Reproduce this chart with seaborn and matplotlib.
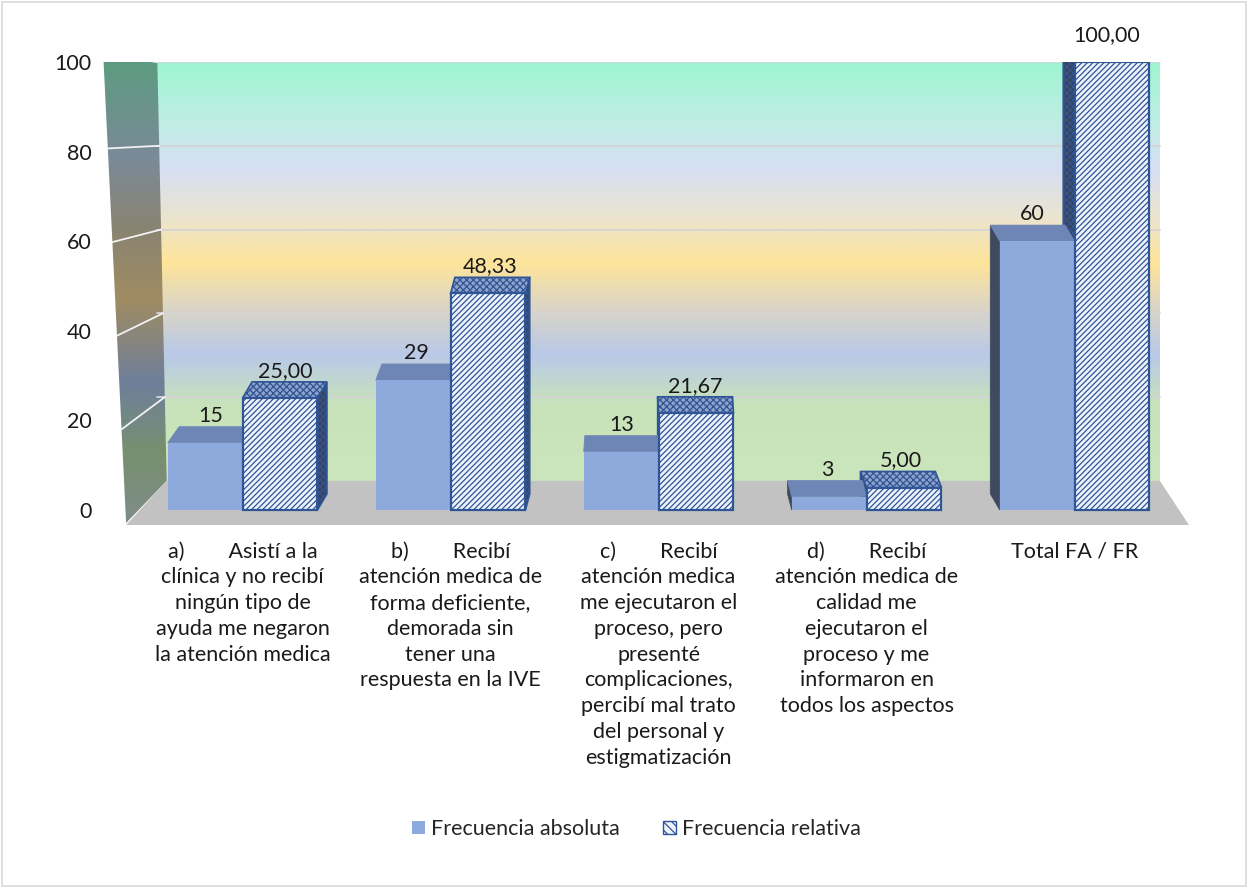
import matplotlib
matplotlib.use("Agg")
import numpy as np
import pandas as pd
import matplotlib.pyplot as plt
import seaborn as sns
from matplotlib.colors import LinearSegmentedColormap
from matplotlib.patches import Polygon, Patch, Rectangle

# datos del gráfico
categorias = [
    "a)        Asistí a la\nclínica y no recibí\nningún tipo de\nayuda me negaron\nla atención medica",
    "b)        Recibí\natención medica de\nforma deficiente,\ndemorada sin\ntener una\nrespuesta en la IVE",
    "c)        Recibí\natención medica\nme ejecutaron el\nproceso, pero\npresenté\ncomplicaciones,\npercibí mal trato\ndel personal y\nestigmatización",
    "d)        Recibí\natención medica de\ncalidad me\nejecutaron el\nproceso y me\ninformaron en\ntodos los aspectos",
    "Total FA / FR",
]
frec_absoluta = [15, 29, 13, 3, 60]
frec_relativa = [25.00, 48.33, 21.67, 5.00, 100.00]
series = ["Frecuencia absoluta", "Frecuencia relativa"]
ticks_y = [0, 20, 40, 60, 80, 100]

df = pd.DataFrame({
    "categoria": categorias * 2,
    "serie": [series[0]] * len(categorias) + [series[1]] * len(categorias),
    "valor": frec_absoluta + frec_relativa,
})

sns.set_theme(style="white")
plt.rcParams["font.family"] = ["Lato", "DejaVu Sans"]
plt.rcParams["hatch.linewidth"] = 0.9

azul = "#8eaadc"
borde = "#2f5597"
fs = 15.5

fig = plt.figure(figsize=(12.48, 8.88), dpi=100)
fig.patches.append(Rectangle((0.002, 0.002), 0.996, 0.996, transform=fig.transFigure,
                             fill=False, edgecolor="#d9d9d9", linewidth=1.2))
ax = fig.add_axes([97 / 1248, 363 / 888, (1189 - 97) / 1248, 463 / 888])

# fondo tipo 3D: pared, pared lateral y piso
y0, y1 = -3.35, 100.0
x0, x1 = -0.7, 4.55
piso_y = 6.5
grad = np.linspace(0, 1, 256).reshape(-1, 1)

cmap_pared = LinearSegmentedColormap.from_list("pared", [
    (0.0, "#cbe5bd"), (0.18, "#c8e3ba"), (0.30, "#b9c9e8"), (0.42, "#ddd6c4"),
    (0.52, "#ffe49a"), (0.63, "#ebe4cf"), (0.75, "#d6dff3"), (0.86, "#bfeee4"),
    (1.0, "#9ef5d2")])
ax.imshow(grad, cmap=cmap_pared, extent=[-0.41, 4.41, piso_y, 100], aspect="auto",
          origin="lower", zorder=0)

cmap_lado = LinearSegmentedColormap.from_list("lado", [
    (0.0, "#7f8c8a"), (0.15, "#78906f"), (0.30, "#6f7f9b"), (0.48, "#a08c62"),
    (0.62, "#8a8470"), (0.78, "#7b8a98"), (1.0, "#5b9d7f")])
lado = Polygon([(-0.56, -2.9), (-0.67, 101.6), (-0.41, 100), (-0.365, piso_y)],
               closed=True, facecolor="none", edgecolor="none")
ax.add_patch(lado)
img = ax.imshow(grad, cmap=cmap_lado, extent=[-0.67, -0.365, -2.9, 101.6], aspect="auto",
                origin="lower", zorder=0.5)
img.set_clip_path(lado)

ax.add_patch(Polygon([(-0.56, y0), (4.55, y0), (4.41, piso_y), (-0.365, piso_y)],
                     closed=True, facecolor="#c2c2c2", edgecolor="none", zorder=0.6))

for v in ticks_y[1:]:
    yb = piso_y + v * (100 - piso_y) / 100
    ax.plot([-0.41, 4.41], [yb, yb], color="#d4d4d4", lw=1.3, zorder=1)
    ax.plot([-0.56 - 0.11 * v / 100, -0.365 - 0.045 * v / 100], [-2.9 + v * 1.045, yb],
            color="#f2f2f2", lw=1.3, zorder=1)

# barras
sns.barplot(data=df, x="categoria", y="valor", hue="serie", palette=[azul, "white"],
            width=0.72, legend=False, ax=ax, zorder=3, saturation=1)

dy = 3.6
for i, cont in enumerate(ax.containers):
    for bar, val in zip(cont.patches, [frec_absoluta, frec_relativa][i]):
        x, w, h = bar.get_x(), bar.get_width(), bar.get_height()
        cx = x + w / 2
        dx = (2.0 - cx) * 0.025
        if i == 0:
            bar.set_edgecolor("none")
            top_kw = dict(facecolor="#6d86b6", edgecolor="#6d86b6", lw=0.5)
            side_kw = dict(facecolor="#3e4a60", edgecolor="#3e4a60", lw=0.5)
        else:
            bar.set_facecolor("#eef3fb")
            bar.set_edgecolor(borde)
            bar.set_hatch("//////")
            bar.set_linewidth(1.6)
            top_kw = dict(facecolor="#8fa2c8", edgecolor=borde, lw=1.2, hatch="xxxxx")
            side_kw = dict(facecolor="#3b4458", edgecolor=borde, lw=1.2, hatch="xxxxx")
        ax.add_patch(Polygon([(x, h), (x + w, h), (x + w + dx, h + dy), (x + dx, h + dy)],
                             closed=True, zorder=2.6, **top_kw))
        xs = x + w if dx > 0 else x
        ax.add_patch(Polygon([(xs, 0), (xs, h), (xs + dx, h + dy), (xs + dx, dy)],
                             closed=True, zorder=2.5, **side_kw))
        txt = f"{val:.0f}" if i == 0 else f"{val:.2f}".replace(".", ",")
        ax.text(cx + dx / 2, h + dy + 0.2, txt, ha="center", va="bottom",
                fontsize=fs, color="#1a1a1a", zorder=5)

ax.set_xlim(x0, x1)
ax.set_ylim(y0, y1)
ax.set_yticks(ticks_y)
ax.set_yticklabels([str(t) for t in ticks_y], fontsize=fs, color="#1a1a1a")
ax.set_xlabel("")
ax.set_ylabel("")
ax.tick_params(axis="y", length=0, pad=4)
ax.tick_params(axis="x", length=0, pad=12, labelsize=fs, labelcolor="#1a1a1a")
for lbl in ax.get_xticklabels():
    lbl.set_linespacing(1.36)
for s in ax.spines.values():
    s.set_visible(False)

handles = [Patch(facecolor=azul, edgecolor="none"),
           Patch(facecolor="#eef3fb", edgecolor=borde, hatch="\\\\\\\\")]
fig.legend(handles, series, loc="center", bbox_to_anchor=(0.51, 1 - 829 / 888), ncol=2,
           frameon=False, fontsize=fs, handlelength=0.6, handleheight=0.6,
           handletextpad=0.3, columnspacing=2.0)

fig.savefig("out.png", dpi=100)
